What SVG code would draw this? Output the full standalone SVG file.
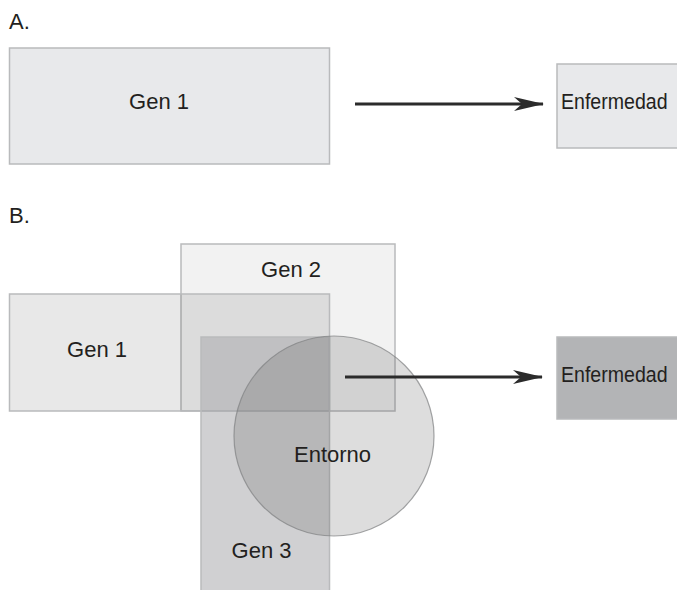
<svg xmlns="http://www.w3.org/2000/svg" width="677" height="590" viewBox="0 0 677 590">
  <style>
    text { font-family: "Liberation Sans", Arial, sans-serif; font-size: 22px; fill: #231f20; }
    .mid { text-anchor: middle; }
    .box { stroke: #b9babc; stroke-width: 1.5; }
    .conn { stroke: #2b2b2b; stroke-width: 3; fill: none; marker-end: url(#arrow); }
  </style>
  <defs>
    <marker id="arrow" viewBox="0 0 30 16" refX="29" refY="8" markerWidth="30" markerHeight="16" markerUnits="userSpaceOnUse" orient="auto">
      <path d="M0,1 L30,8 L0,15 L8,8 Z" fill="#2b2b2b"/>
    </marker>
  </defs>
  <rect width="677" height="590" fill="#ffffff"/>

  <!-- Section A -->
  <text id="labelA" x="9" y="29">A.</text>
  <g id="a-gen1">
    <rect class="box" x="9.5" y="48" width="320" height="116" fill="#e8e9eb"/>
    <text class="mid" x="159" y="109">Gen 1</text>
  </g>
  <g id="a-enfermedad">
    <rect class="box" x="557" y="64" width="130" height="84" fill="#e8e9eb"/>
    <text transform="translate(561 109) scale(0.89 1)" x="0" y="0">Enfermedad</text>
  </g>

  <!-- Section B -->
  <text id="labelB" x="9" y="223">B.</text>
  <g id="b-gen2">
    <rect class="box" x="181" y="244" width="214" height="167" fill="#000000" fill-opacity="0.05"/>
    <text class="mid" x="291" y="277">Gen 2</text>
  </g>
  <g id="b-gen1">
    <rect class="box" x="9.5" y="294" width="320" height="117" fill="#000000" fill-opacity="0.09"/>
    <text class="mid" x="97" y="357">Gen 1</text>
  </g>
  <g id="b-gen3">
    <rect class="box" x="201" y="337" width="128.5" height="260" fill="#a9aaad" fill-opacity="0.55" stroke="#a3a4a6"/>
    <text class="mid" x="261.5" y="558">Gen 3</text>
  </g>
  <g id="b-entorno">
    <circle cx="334" cy="436" r="100" fill="#4c4c4c" fill-opacity="0.19" stroke="#7f8082" stroke-opacity="0.7" stroke-width="1.2"/>
    <text class="mid" x="332.5" y="462">Entorno</text>
  </g>
  <g id="b-enfermedad">
    <rect class="box" x="557" y="337" width="130" height="82" fill="#b3b4b6" stroke="#9e9fa1"/>
    <text transform="translate(561 382) scale(0.89 1)" x="0" y="0">Enfermedad</text>
  </g>

  <g id="connectors">
    <line class="conn" x1="355" y1="104" x2="543" y2="104"/>
    <line class="conn" x1="345" y1="377" x2="542" y2="377"/>
  </g>
</svg>
